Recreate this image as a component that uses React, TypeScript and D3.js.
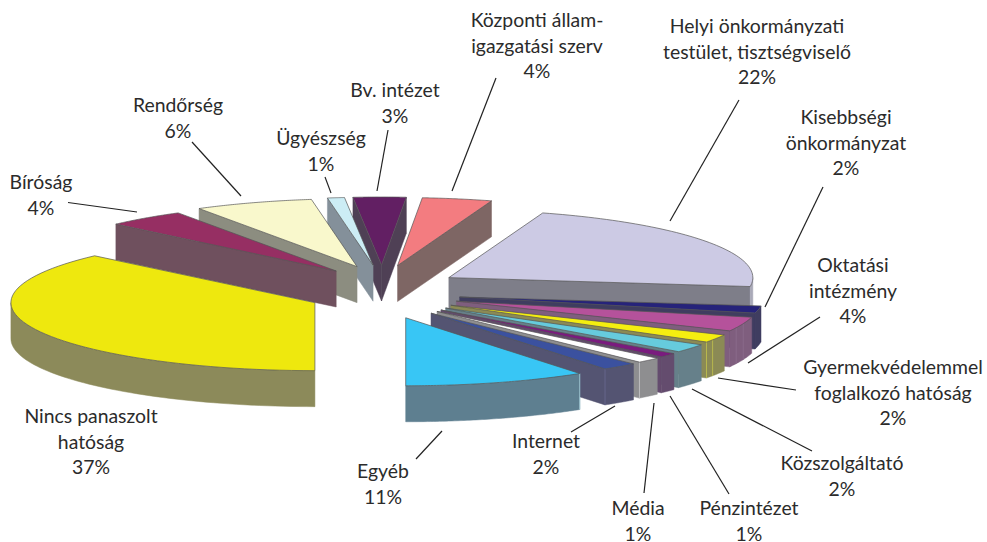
import React from "react";
import * as d3 from "d3";

const names = [
  ["Helyi önkormányzati", "testület, tisztségviselő"],
  ["Kisebbségi", "önkormányzat"],
  ["Oktatási", "intézmény"],
  ["Gyermekvédelemmel", "foglalkozó hatóság"],
  ["Közszolgáltató"],
  ["Pénzintézet"],
  ["Média"],
  ["Internet"],
  ["Egyéb"],
  ["Nincs panaszolt", "hatóság"],
  ["Bíróság"],
  ["Rendőrség"],
  ["Ügyészség"],
  ["Bv. intézet"],
  ["Központi állam-", "igazgatási szerv"],
];
const percentLabels = ["22%", "2%", "4%", "2%", "2%", "1%", "1%", "2%", "11%", "37%", "4%", "6%", "1%", "3%", "4%"];
const shares = [22.1, 1.7, 3.4, 1.9, 2.0, 1.0, 1.3, 1.9, 9.7, 37.1, 4.2, 6.3, 0.9, 2.8, 3.7];
const topColors = ["#CCCAE4", "#26237A", "#B5529B", "#F5EE10", "#66CBDD", "#7A1B7E", "#FFFFFF", "#3B519F", "#38C6F5", "#EEE80E", "#962F63", "#F9F8CC", "#CCEDF5", "#621F63", "#F37C80"];
const wallColors = ["#7E7E89", "#3F3D60", "#7F5E7E", "#8B8A55", "#66808A", "#644C6E", "#8E8E90", "#545472", "#5E7F90", "#8C8A5A", "#6F505E", "#8C8D80", "#84909A", "#4F4055", "#7E6664"];
const rimColors = ["#A9A9B8", "#3F3D60", "#7F5E7E", "#8B8A55", "#66808A", "#644C6E", "#8E8E90", "#545472", "#5E7F90", "#8C8A5A", "#6F505E", "#8C8D80", "#84909A", "#4F4055", "#7E6664"];
// where the faint vertical seams of the rim lie, as a fraction of each slice's sweep
const seamFractions = [[], [], [0.46, 0.76], [0.68, 1], [], [], [1], [1], [0], [], [], [], [], [], []];
const seamColors = ["", "", "#8A6A8A", "#B8B84E", "", "", "#BEBEC0", "#66668C", "#9CC4D0", "", "", "", "", "", ""];
const paintOrder = [14, 13, 12, 11, 10, 9, 0, 1, 2, 3, 4, 5, 6, 7, 8];
const labelCenters = [757, 846, 853, 893, 842, 749, 638, 546, 383, 91, 41, 178, 321, 395, 537];
const labelBaselines = [33, 124, 272, 374, 470, 515, 515, 448, 478, 423, 189, 112, 145, 97, 27];
const leaders = [
  [[739, 100], [670, 221]],
  [[823, 187], [765, 307]],
  [[820, 317], [748, 363]],
  [[796, 390], [718, 378]],
  [[812, 451], [692, 389]],
  [[729, 494], [670, 396]],
  [[644, 493], [654, 403]],
  [[571, 432], [615, 406]],
  [[416, 459], [442, 431]],
  [],
  [[68, 202.5], [137, 212]],
  [[192, 142], [241, 196]],
  [[325, 177], [331, 193]],
  [[388, 130], [377, 191]],
  [[496, 78], [452, 191]],
];

const W = 987, H = 542;
const CX = 382, CY = 292, RX = 304, RY = 68, DEPTH = 36, EX_RIGHT = 79, EX_LEFT = 73, EY = 27;
const rad = (d: number) => (d * Math.PI) / 180;

const sx = d3.scaleLinear().domain([-1, 1]).range([-RX, RX]);
const sy = d3.scaleLinear().domain([-1, 1]).range([-RY, RY]);
const path = d3.line<number[]>().x((d) => d[0]).y((d) => d[1]);

const pie = d3.pie<number>().sort(null).startAngle(rad(18)).endAngle(rad(378));
const arcs = pie(shares);

function App() {
  const slices = arcs.map((a, i) => {
    const mid = (a.startAngle + a.endAngle) / 2;
    const sm = Math.sin(mid);
    const ax = CX + (sm > 0 ? EX_RIGHT : EX_LEFT) * sm;
    const ay = CY - EY * Math.cos(mid);
    const pt = (t: number, dz = 0) => [ax + sx(Math.sin(t)), ay - sy(Math.cos(t)) + dz];
    const samples = (t0: number, t1: number) =>
      d3.range(0, 61).map((k) => t0 + ((t1 - t0) * k) / 60);
    const topRim = samples(a.startAngle, a.endAngle).map((t) => pt(t));
    const top = path([[ax, ay], ...topRim]) + "Z";
    const walls: { d: string; fill: string }[] = [];
    const face = (t: number) =>
      path([[ax, ay], pt(t), pt(t, DEPTH), [ax, ay + DEPTH]]) + "Z";
    if (Math.sin(a.startAngle) < -1e-3) walls.push({ d: face(a.startAngle), fill: wallColors[i] });
    if (Math.sin(a.endAngle) > 1e-3) walls.push({ d: face(a.endAngle), fill: wallColors[i] });
    const w0 = Math.max(a.startAngle, rad(90));
    const w1 = Math.min(a.endAngle, rad(270));
    if (w1 > w0) {
      const s = samples(w0, w1);
      walls.push({
        d: path([...s.map((t) => pt(t)), ...s.slice().reverse().map((t) => pt(t, DEPTH))]) + "Z",
        fill: rimColors[i],
      });
    }
    const seams = seamFractions[i].map((f) => {
      const t = a.startAngle + (a.endAngle - a.startAngle) * f;
      return path([pt(t), pt(t, DEPTH)]) as string;
    });
    return { top, walls, seams, i };
  });

  return (
    <svg width={W} height={H} viewBox={`0 0 ${W} ${H}`} style={{ position: "absolute", left: 0, top: 0, background: "#fff" }}>
      {paintOrder.map((i) => {
        const s = slices[i];
        return (
          <g key={i}>
            {s.walls.map((w, k) => (
              <path key={k} d={w.d} fill={w.fill} stroke={w.fill} strokeWidth={0.5} />
            ))}
            {s.seams.map((d, k) => (
              <path key={k} d={d} fill="none" stroke={seamColors[i]} strokeWidth={1} />
            ))}
            <path d={s.top} fill={topColors[i]} stroke="#555" strokeWidth={0.7} strokeLinejoin="round" />
          </g>
        );
      })}
      {leaders.map((l, i) =>
        l.length ? (
          <line key={i} x1={l[0][0]} y1={l[0][1]} x2={l[1][0]} y2={l[1][1]} stroke="#222" strokeWidth={1.2} />
        ) : null
      )}
      {names.map((lines, i) => (
        <text key={i} textAnchor="middle" fontFamily="Lato" fontSize={19.4} fill="#2b2b2b">
          {[...lines, percentLabels[i]].map((t, k) => (
            <tspan key={k} x={labelCenters[i]} y={labelBaselines[i] + k * 25.5}>
              {t}
            </tspan>
          ))}
        </text>
      ))}
    </svg>
  );
}

export default App;
